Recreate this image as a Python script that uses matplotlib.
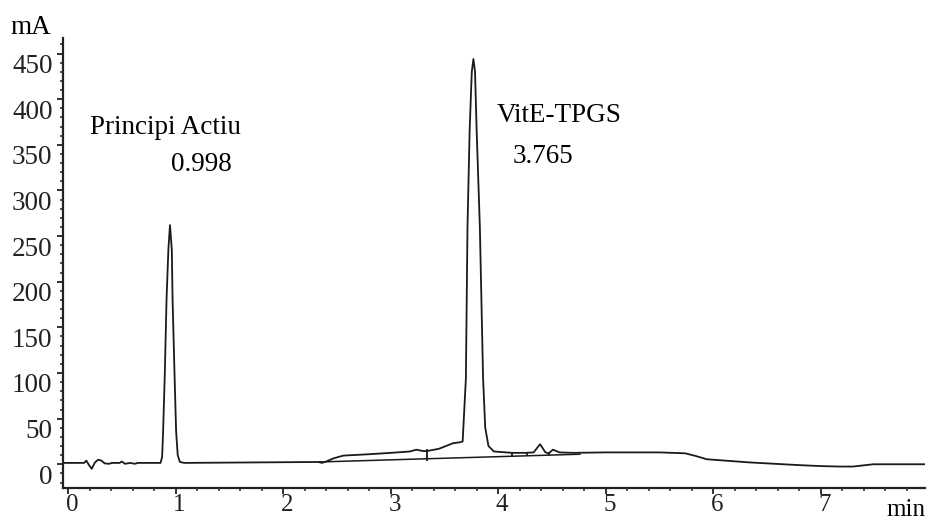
import numpy as np
import matplotlib.pyplot as plt
import matplotlib.transforms as mtransforms
from matplotlib.ticker import MultipleLocator

# chromatogram trace (time in min, signal in mA)
t = [-0.05, 0.15, 0.17, 0.19, 0.22, 0.25, 0.28, 0.31, 0.34, 0.38, 0.41,
     0.48, 0.50, 0.53, 0.58, 0.62, 0.65, 0.80, 0.86, 0.875, 0.884, 0.90,
     0.916, 0.933, 0.948, 0.965, 0.972, 0.99, 1.005, 1.02, 1.04, 1.08,
     2.33, 2.36, 2.40, 2.47, 2.56, 2.80, 3.00, 3.18, 3.24, 3.30, 3.34,
     3.45, 3.58, 3.64, 3.67, 3.70, 3.715, 3.735, 3.755, 3.77, 3.785,
     3.80, 3.83, 3.86, 3.88, 3.91, 3.96, 4.13, 4.25, 4.33, 4.39, 4.44,
     4.47, 4.51, 4.57, 4.70, 5.00, 5.50, 5.74, 5.84, 5.94, 6.34, 6.81,
     7.00, 7.18, 7.30, 7.49, 7.97]
signal = [1.5, 1.5, 4, 0, -5, 2, 5, 4, 1, 0.5, 1.5,
          1.5, 3, 0.5, 1.5, 0.5, 1.5, 1.5, 1.5, 8, 36, 100,
          181, 235, 262, 235, 181, 100, 36, 10, 2.5, 1.5,
          2.5, 1.5, 3, 6.5, 9.5, 11, 12.5, 14, 16, 14.5, 14.5,
          17, 23, 24, 25, 94, 260, 366, 430, 444, 430,
          366, 260, 94, 40, 20, 14, 12.5, 12.5, 13, 22, 13,
          12, 16, 13, 12.5, 13, 13, 12, 9, 5.5, 2, -1,
          -2, -2.5, -2.5, 0, 0]

# integration baselines and peak delimiters drawn by the software
base_t = [2.33, 4.76]
base_y = [2.5, 11]
mark_t = [3.34, 4.13, 4.27, 4.47]
mark_lo = [3.5, 9.5, 10, 10.5]
mark_hi = [16.5, 13.5, 13.5, 13]

peak_names = ["Principi Actiu", "VitE-TPGS"]
peak_times = ["0.998", "3.765"]

plt.rcParams['font.family'] = ['Liberation Serif', 'DejaVu Serif']
fs = 19.5

fig = plt.figure(figsize=(9.3, 5.23), dpi=100)
ax = fig.add_axes([63/930, 1-488/523, 862/930, 450/523])

ax.plot(t, signal, color='#1a1a1a', lw=1.3)
ax.plot(base_t, base_y, color='#1a1a1a', lw=1.1)
ax.vlines(mark_t, mark_lo, mark_hi, color='#1a1a1a', lw=1.3)

ax.set_xlim(-0.047, 7.97)
ax.set_ylim(-26, 467)
ax.xaxis.set_major_locator(MultipleLocator(1))
ax.xaxis.set_minor_locator(MultipleLocator(0.2))
ax.yaxis.set_major_locator(MultipleLocator(50))
ax.yaxis.set_minor_locator(MultipleLocator(10))

for s in ['top', 'right']:
    ax.spines[s].set_visible(False)
for s in ['left', 'bottom']:
    ax.spines[s].set_linewidth(1.6)
    ax.spines[s].set_color('#222222')

ax.tick_params(which='major', length=4.5, width=1.3, colors='#222222')
ax.tick_params(which='minor', length=2.5, width=1.1, colors='#222222')
ax.tick_params(axis='y', labelsize=fs, pad=3)
ax.tick_params(axis='x', labelsize=18, pad=0)

# tick labels sit a little off their ticks in the original
off_y = mtransforms.ScaledTranslation(0, -10/100, fig.dpi_scale_trans)
for lab in ax.get_yticklabels():
    lab.set_transform(lab.get_transform() + off_y)
off_x = mtransforms.ScaledTranslation(4/100, 0, fig.dpi_scale_trans)
for lab in ax.get_xticklabels():
    lab.set_transform(lab.get_transform() + off_x)

ax.text(0.205, 362, peak_names[0], fontsize=fs, va='baseline', ha='left')
ax.text(0.958, 321, peak_times[0], fontsize=fs, va='baseline', ha='left')
ax.text(3.99, 375, peak_names[1], fontsize=fs, va='baseline', ha='left')
ax.text(4.137, 330, peak_times[1], fontsize=fs, va='baseline', ha='left')

fig.text(10/930, 1-34/523, "mA", fontsize=fs, va='baseline', ha='left')
fig.text(886/930, 1-516/523, "min", fontsize=18, va='baseline', ha='left')

plt.savefig("out.png", dpi=100)
